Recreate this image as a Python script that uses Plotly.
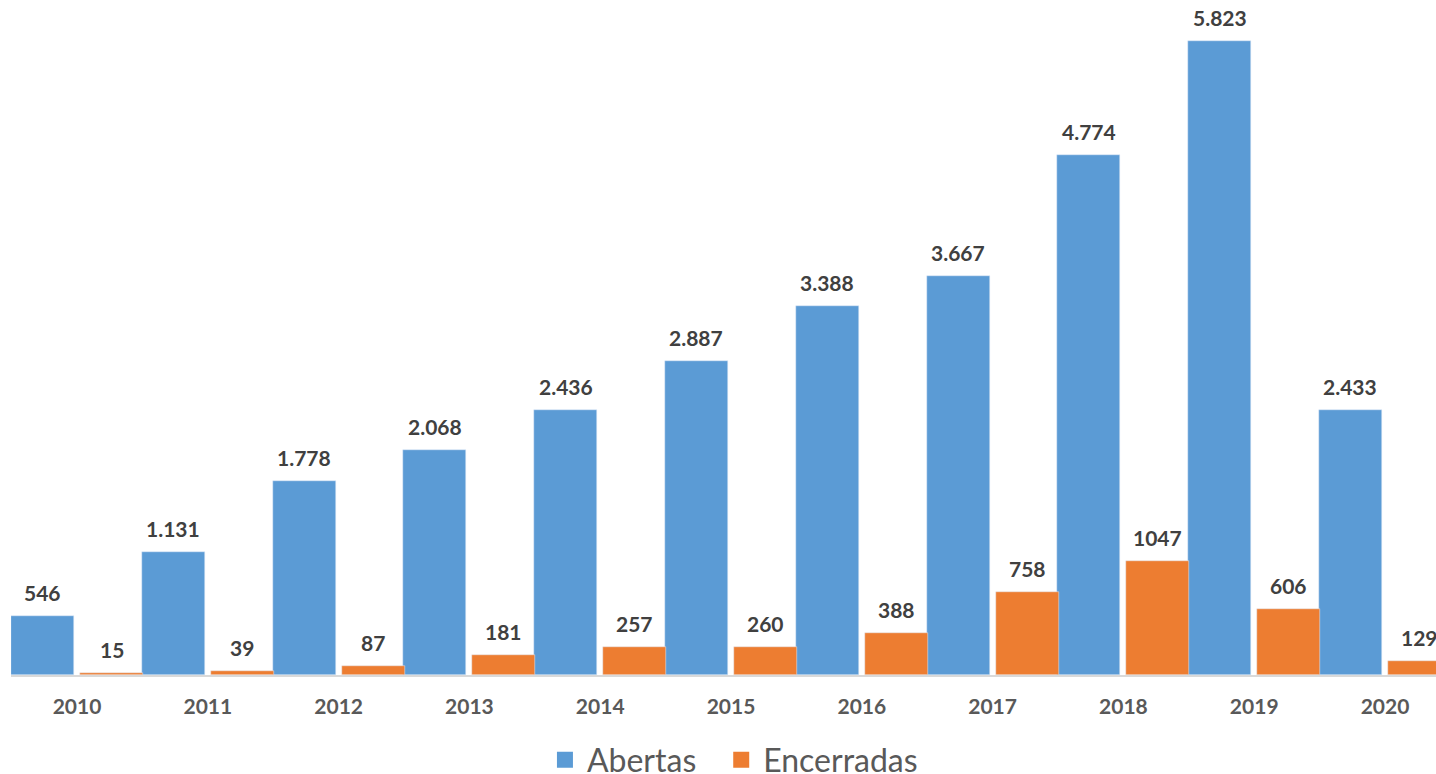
import plotly.graph_objects as go

years = ["2010", "2011", "2012", "2013", "2014", "2015", "2016", "2017", "2018", "2019", "2020"]
abertas = [546, 1131, 1778, 2068, 2436, 2887, 3388, 3667, 4774, 5823, 2433]
encerradas = [15, 39, 87, 181, 257, 260, 388, 758, 1047, 606, 129]

abertas_txt = [f"{v:,}".replace(",", ".") for v in abertas]
encerradas_txt = [str(v) for v in encerradas]

BLUE = "#5B9BD5"
ORANGE = "#ED7D31"
FONT = "Lato"

idx = list(range(len(years)))

# bar geometry (category units): blue left half, small gap, orange right half
bw = 0.482
blue_off = -0.505
orange_off = 0.023

fig = go.Figure()
fig.add_trace(go.Bar(x=idx, y=abertas, name="Abertas", marker_color=BLUE,
                     width=bw, offset=blue_off, showlegend=False))
fig.add_trace(go.Bar(x=idx, y=encerradas, name="Encerradas", marker_color=ORANGE,
                     width=bw, offset=orange_off, showlegend=False))

# legend entries with bigger square swatches, one legend each so spacing can be set
for name, col, lg in [("Abertas", BLUE, "legend"), ("Encerradas", ORANGE, "legend2")]:
    fig.add_trace(go.Scatter(x=[None], y=[None], mode="markers", name=name, legend=lg,
                             marker=dict(symbol="square", size=17, color=col)))

# value labels
for i in idx:
    for vals, txt, off in [(abertas, abertas_txt, blue_off), (encerradas, encerradas_txt, orange_off)]:
        fig.add_annotation(
            x=i + off + bw / 2, y=vals[i], text="<b>" + txt[i] + "</b>",
            showarrow=False, xref="x", yref="y", yanchor="bottom", yshift=9,
            font=dict(family=FONT, size=21, color="#404040"),
        )

legend_style = dict(orientation="h", y=-0.126, yanchor="middle", xanchor="left",
                    font=dict(family=FONT, size=32, color="#595959"),
                    itemwidth=34, bgcolor="rgba(0,0,0,0)")

fig.update_layout(
    width=1436, height=774,
    margin=dict(l=11, r=0, t=0, b=99, autoexpand=False),
    paper_bgcolor="white", plot_bgcolor="white",
    barmode="overlay",
    bargap=0,
    legend=dict(x=0.3733, **legend_style),
    legend2=dict(x=0.497, **legend_style),
    xaxis=dict(range=[-0.505, 10.39], showgrid=False, zeroline=False,
               showline=True, linecolor="#D9D9D9", linewidth=1.5,
               tickmode="array", tickvals=idx, ticktext=["<b>" + y + "</b>" for y in years],
               ticks="", ticklabelstandoff=12, automargin=False,
               tickfont=dict(family=FONT, size=21, color="#595959")),
    yaxis=dict(range=[0, 6200], visible=False, showgrid=False, zeroline=False),
)

fig.write_html("out.html", config={"displayModeBar": False},
               post_script="document.body.style.margin='0';")
